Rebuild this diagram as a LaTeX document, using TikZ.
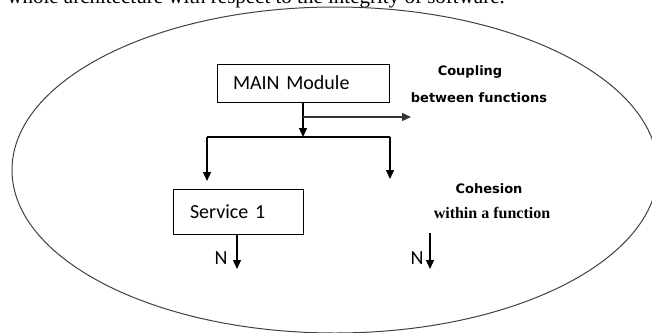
\documentclass[tikz,border=0pt]{standalone}
\usepackage{fontspec}
\setmainfont{Carlito}
\newfontfamily\dvs{DejaVu Sans}
\newfontfamily\lserif{Liberation Serif}
\usetikzlibrary{arrows.meta}
\begin{document}
\begin{tikzpicture}[x=1pt,y=-1pt,
  box/.style={draw=black, line width=1pt, rectangle, align=left, font=\fontsize{20}{24}\selectfont},
  conn/.style={draw=black, line width=1.3pt},
  arr/.style={conn, -{Triangle[length=9pt,width=8pt]}},
  nlab/.style={font=\fontsize{20}{24}\selectfont, inner sep=0pt},
  boldsans/.style={font=\dvs\bfseries\fontsize{13}{16}\selectfont, inner sep=0pt},
  boldserif/.style={font=\lserif\bfseries\fontsize{16}{19}\selectfont, inner sep=0pt}]
\useasboundingbox (0,0) rectangle (652,332);
\clip (0,0) rectangle (652,332);
% cut-off line of text at the top
\node[anchor=base east, inner sep=0pt, font=\lserif\fontsize{21}{25}\selectfont] (toptext) at (505,3) {whole architecture with respect to the integrity of software.};
% enclosing ellipse
\draw[draw=black!75, line width=1pt] (335,170) ellipse [x radius=323, y radius=163];
% nodes
\node[box, minimum height=38pt, text width=140pt, inner xsep=16pt] (main) at (303,83) {MAIN Module};
\node[box, minimum height=45pt, text width=96pt, inner xsep=17pt] (svc) at (238,211.5) {Service 1};
% coordinates
\coordinate (j) at (303,137);
\coordinate (c1) at (303,117);
\coordinate (c2) at (411,117);
\coordinate (jl) at (207,137);
\coordinate (jr) at (390,137);
\coordinate (tl) at (207,181);
\coordinate (tr) at (390,179);
\coordinate (s1) at (237,234);
\coordinate (s2) at (237,269);
\coordinate (n1) at (430,233);
\coordinate (n2) at (430,269);
% connectors
\draw[arr] (main.south) -- (j);
\draw[arr, draw=black!80] (c1) -- (c2);
\draw[conn] (jl) -- (jr);
\draw[arr] (jl) -- (tl);
\draw[arr] (jr) -- (tr);
\draw[arr] (s1) -- (s2);
\draw[arr] (n1) -- (n2);
% labels
\node[nlab] (N1) at (221,258) {N};
\node[nlab] (N2) at (417,258) {N};
\node[boldsans] (coup) at (470,72) {Coupling};
\node[boldsans] (betw) at (479,98) {between functions};
\node[boldsans] (coh) at (489,189) {Cohesion};
\node[boldserif] (within) at (492,213) {within a function};
\end{tikzpicture}
\end{document}
